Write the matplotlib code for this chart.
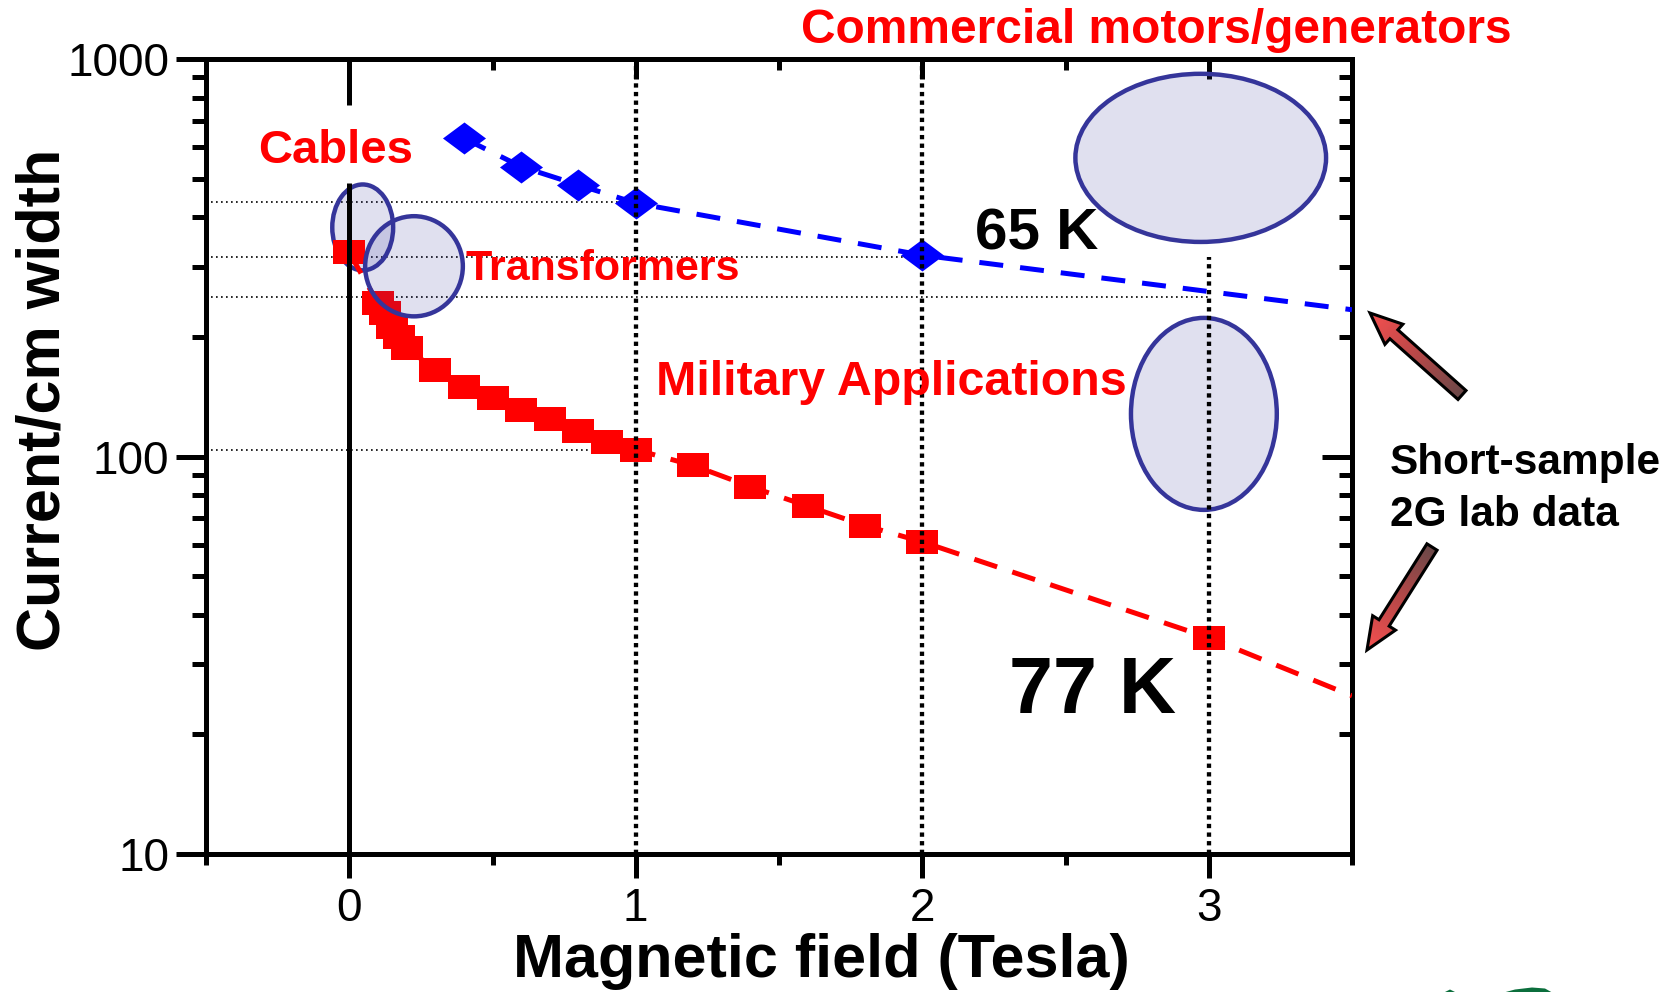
import numpy as np
import matplotlib
matplotlib.use('Agg')
import matplotlib.pyplot as plt
from matplotlib.path import Path
from matplotlib.patches import Ellipse, FancyArrow, Polygon
from matplotlib.colors import LinearSegmentedColormap
from matplotlib.ticker import LogLocator, NullFormatter

plt.rcParams['font.family'] = ['Liberation Sans', 'DejaVu Sans']

# ---------------- data ----------------
field_77K = [0, 0.1, 0.125, 0.15, 0.175, 0.2, 0.3, 0.4, 0.5, 0.6, 0.7, 0.8, 0.9,
             1.0, 1.2, 1.4, 1.6, 1.8, 2.0, 3.0]
current_77K = [326, 243, 230, 212, 200, 188, 165, 150, 140, 131, 124, 116, 109,
               104, 95, 84, 75, 67, 61, 35]
field_65K = [0.4, 0.6, 0.8, 1.0, 2.0]
current_65K = [632, 536, 482, 434, 321]
extrap_field = 3.5
extrap_77K = 25
extrap_65K = 234

# dotted guide lines
ref_levels = [437, 318, 252, 104]
ref_level_ends = [1, 2, 3, 1]
field_guides = [1, 2, 3]
field_guide_tops = [1000, 1000, 318]

# application regions: (centre field, centre current, width in T, height in decades)
regions_names = ['Cables', 'Transformers', 'Commercial', 'Military']
region_field = [0.047, 0.226, 2.972, 2.983]
region_current = [377, 301, 564, 128]
region_width_T = [0.2125, 0.341, 0.875, 0.509]
region_height_dec = [0.216, 0.252, 0.423, 0.483]

x_ticks = [0, 1, 2, 3]
x_tick_labels = ['0', '1', '2', '3']
x_minor = [-0.5, 0.5, 1.5, 2.5, 3.5]
y_ticks = [10, 100, 1000]
y_tick_labels = ['10', '100', '1000']

RED = '#FF0000'
BLUE = '#0000FF'
FILL = (0.2, 0.2, 0.6, 0.15)
EDGE = '#35359A'

W, H = 1670, 992
fig = plt.figure(figsize=(W / 100, H / 100), dpi=100)
L, R, T, B = 206, 1352, 59, 854
ax = fig.add_axes([L / W, 1 - B / H, (R - L) / W, (B - T) / H])
ax.set_xlim(-0.5, 3.5)
ax.set_yscale('log')
ax.set_ylim(10, 1000)

# guide lines
ax.hlines(ref_levels, -0.5, ref_level_ends, colors='black', lw=1.2,
          linestyles=[(0, (1, 2))], zorder=2)
ax.vlines(field_guides, 10, field_guide_tops, colors='black', lw=3.1,
          linestyles=[(0, (1, 1))], zorder=4)
ax.vlines([0], 10, 488, colors='black', lw=3.6, zorder=4.5)
ax.vlines([0], 766, 1000, colors='black', lw=3.6, zorder=4.5)

# ellipses (axis-aligned, placed in axes fraction)
for i in range(len(regions_names)):
    cx, cy = ax.transAxes.inverted().transform(
        ax.transData.transform((region_field[i], region_current[i])))
    w = region_width_T[i] / 4.0
    h = region_height_dec[i] / 2.0
    z = 3.5 if regions_names[i] == 'Transformers' else 2.5
    e = Ellipse((cx, cy), w, h, transform=ax.transAxes, facecolor=FILL,
                edgecolor=EDGE, lw=3.2, zorder=z)
    ax.add_patch(e)

# markers
rect = Path([(-0.5, -0.37), (0.5, -0.37), (0.5, 0.37), (-0.5, 0.37), (-0.5, -0.37)],
            [Path.MOVETO, Path.LINETO, Path.LINETO, Path.LINETO, Path.CLOSEPOLY])
diam = Path([(-0.5, 0), (0, 0.372), (0.5, 0), (0, -0.372), (-0.5, 0)],
            [Path.MOVETO, Path.LINETO, Path.LINETO, Path.LINETO, Path.CLOSEPOLY])

ax.plot(field_77K + [extrap_field], current_77K + [extrap_77K], color=RED, lw=3.6,
        dashes=(4.8, 3.2), zorder=3)
ax.plot(field_77K, current_77K, ls='none', marker=rect, ms=22.6, mew=0,
        color=RED, zorder=3.2)
ax.plot(field_65K + [extrap_field], current_65K + [extrap_65K], color=BLUE, lw=3.6,
        dashes=(4.8, 3.4), zorder=3)
ax.plot(field_65K, current_65K, ls='none', marker=diam, ms=31, mew=0,
        color=BLUE, zorder=3.2)

# ticks
ax.set_xticks(x_ticks, labels=x_tick_labels)
ax.set_xticks(x_minor, minor=True)
ax.set_yticks(y_ticks, labels=y_tick_labels)
ax.yaxis.set_minor_locator(LogLocator(base=10, subs=np.arange(2, 10)))
ax.yaxis.set_minor_formatter(NullFormatter())
ax.tick_params(which='both', top=False, right=False, direction='out', width=3.6,
               labelsize=33)
ax.tick_params(axis='x', which='major', length=17, pad=7)
ax.tick_params(axis='x', which='minor', length=8)
ax.tick_params(axis='y', which='major', length=21.6, pad=5)
ax.tick_params(axis='y', which='minor', length=10)
for s in ax.spines.values():
    s.set_linewidth(3.6)

secx = ax.secondary_xaxis('top')
secx.set_ticks(x_ticks)
secx.set_xticks(x_minor, minor=True)
secx.tick_params(which='both', direction='in', labeltop=False, width=3.6)
secx.tick_params(which='major', length=14.4)
secx.tick_params(which='minor', length=8)
secx.spines['top'].set_linewidth(3.6)

secy = ax.secondary_yaxis('right')
secy.set_ticks(y_ticks)
secy.yaxis.set_minor_locator(LogLocator(base=10, subs=np.arange(2, 10)))
secy.tick_params(which='both', direction='in', labelright=False, width=3.6)
secy.tick_params(which='major', length=21.6)
secy.tick_params(which='minor', length=9.4)
secy.spines['right'].set_linewidth(3.6)

# ---------------- overlay in pixel coordinates ----------------
ov = fig.add_axes([0, 0, 1, 1])
ov.set_axis_off()
ov.patch.set_alpha(0)

def txt(x, y, s, size, color='black', **kw):
    ov.text(x, y, s, fontsize=size, color=color, fontweight='bold',
            ha=kw.pop('ha', 'left'), va=kw.pop('va', 'baseline'), **kw)

txt(821, 977, 'Magnetic field (Tesla)', 44, ha='center')
ov.text(60, 400, 'Current/cm width', fontsize=44, fontweight='bold', rotation=90,
        rotation_mode='anchor', ha='center', va='baseline')
txt(801, 43, 'Commercial motors/generators', 34.5, RED)
txt(258, 163, 'Cables', 34, RED)
txt(465, 280, 'Transformers', 31, RED)
txt(656, 395, 'Military Applications', 34.8, RED)
txt(975, 250, '65 K', 42)
txt(1009, 713, '77 K', 57)
txt(1390, 474, 'Short-sample', 30.5)
txt(1390, 526, '2G lab data', 30.5)

cmap = LinearSegmentedColormap.from_list('arr', ['#6A4848', '#B84848', '#F55050'])

def grad_arrow(x0, y0, x1, y1):
    dx, dy = x1 - x0, y1 - y0
    Ln = np.hypot(dx, dy)
    arr = FancyArrow(x0, y0, dx, dy, width=12, head_width=27, head_length=32,
                     length_includes_head=True, facecolor='none',
                     edgecolor='black', lw=2.2, zorder=6)
    ov.add_patch(arr)
    xmin, xmax = min(x0, x1) - 25, max(x0, x1) + 25
    ymin, ymax = min(y0, y1) - 25, max(y0, y1) + 25
    xs = np.linspace(xmin, xmax, 200)
    ys = np.linspace(ymin, ymax, 200)
    X, Y = np.meshgrid(xs, ys)
    t = ((X - x0) * dx + (Y - y0) * dy) / Ln ** 2
    im = ov.imshow(np.clip(t, 0, 1), cmap=cmap, vmin=0, vmax=1, origin='lower',
                   extent=(xmin, xmax, ymin, ymax), aspect='auto', zorder=5.5,
                   interpolation='bilinear')
    im.set_clip_path(arr)

grad_arrow(1462, 395, 1370, 313)
grad_arrow(1432, 547, 1367, 650)

ov.add_patch(Polygon([(1502, 993), (1515, 989.5), (1532, 987.5), (1545, 988.5),
                      (1553, 993)], closed=True, facecolor='#0B6E3C', edgecolor='none'))
ov.add_patch(Polygon([(1443, 993), (1450, 989.5), (1457, 993)], closed=True,
                     facecolor='#0B6E3C', edgecolor='none'))

ov.set_xlim(0, W)
ov.set_ylim(H, 0)

fig.savefig('out.png', dpi=100)
